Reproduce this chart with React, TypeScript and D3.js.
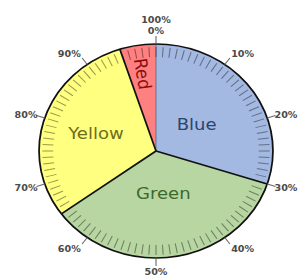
import React from "react";
import * as d3 from "d3";

const categories = ["Blue", "Green", "Yellow", "Red"];
const values = [30, 35, 30, 5];
const fills = ["#a3b9e2", "#b8d6a2", "#ffff80", "#ff8080"];
const textColors = ["#2a4470", "#3d6a2c", "#6e6e1a", "#8a1010"];
const labelRadiusFactor = [0.43, 0.4, 0.54, 0.73];
const tickValues = [0, 10, 20, 30, 40, 50, 60, 70, 80, 90];
const tickLabels = ["0%", "10%", "20%", "30%", "40%", "50%", "60%", "70%", "80%", "90%"];
const topExtraLabel = "100%";

const W = 298;
const H = 277;
const CX = 156;
const CY = 151;
const R = 107;
const SX = 1.093;

export default function App() {
  const pie = d3
    .pie<number>()
    .sort(null)
    .startAngle(0)
    .endAngle(2 * Math.PI)
    .value((d) => d);
  const arcs = pie(values);
  const arcGen = d3.arc<d3.PieArcDatum<number>>().innerRadius(0).outerRadius(R);
  const angle = d3.scaleLinear().domain([0, 100]).range([0, 2 * Math.PI]);
  const minor = d3.range(0, 100, 1);
  const font = "DejaVu Sans, Verdana, sans-serif";

  const pt = (a: number, r: number) => [Math.sin(a) * r, -Math.cos(a) * r];

  return (
    <svg
      width={W}
      height={H}
      style={{ position: "absolute", left: 0, top: 0, background: "#fff" }}
    >
      <g transform={`translate(${CX},${CY}) scale(${SX},1)`}>
        {arcs.map((a, i) => (
          <path key={"s" + i} d={arcGen(a) || ""} fill={fills[i]} stroke="none" />
        ))}
        {minor.map((v) => {
          const a = angle(v);
          const [x1, y1] = pt(a, R - 13);
          const [x2, y2] = pt(a, R - 3);
          return (
            <line
              key={"m" + v}
              x1={x1}
              y1={y1}
              x2={x2}
              y2={y2}
              stroke="rgba(0,0,0,0.4)"
              strokeWidth={1}
            />
          );
        })}
        {arcs.map((a, i) => {
          if (a.startAngle === 0) {
            const [x, y] = pt(0, R);
            return (
              <line key={"b" + i} x1={0} y1={0} x2={x} y2={y} stroke="rgba(60,60,80,0.5)" strokeWidth={1} />
            );
          }
          const [x, y] = pt(a.startAngle, R);
          return <line key={"b" + i} x1={0} y1={0} x2={x} y2={y} stroke="#111" strokeWidth={1.6} />;
        })}
        <circle r={R} fill="none" stroke="#111" strokeWidth={1.6} />
        {tickValues.map((v) => {
          const a = angle(v);
          const [x1, y1] = pt(a, R);
          const [x2, y2] = pt(a, R + 8);
          return <line key={"t" + v} x1={x1} y1={y1} x2={x2} y2={y2} stroke="#666" strokeWidth={1} />;
        })}
        {tickValues.map((v, i) => {
          const a = angle(v);
          const s = Math.sin(a);
          const c = Math.cos(a);
          const side = Math.abs(s) > 0.8;
          const [x, y] = pt(a, R + (side ? 7 : 10));
          const anchor = s > 0.2 ? "start" : s < -0.2 ? "end" : "middle";
          const dy = 3.4 - c * 3.6;
          return (
            <g key={"l" + v}>
              <text
                x={x}
                y={y + dy}
                textAnchor={anchor}
                fontFamily={font}
                fontSize={8.8}
                fontWeight={600}
                fill="#4a4a4a"
              >
                {tickLabels[i]}
              </text>
              {v === 0 && (
                <text
                  x={x}
                  y={y + dy - 11}
                  textAnchor="middle"
                  fontFamily={font}
                  fontSize={8.8}
                  fontWeight={600}
                  fill="#4a4a4a"
                >
                  {topExtraLabel}
                </text>
              )}
            </g>
          );
        })}
        {arcs.map((a, i) => {
          const mid = (a.startAngle + a.endAngle) / 2;
          const [x, y] = pt(mid, R * labelRadiusFactor[i]);
          const rotated = a.endAngle - a.startAngle < 0.5;
          const rot = rotated ? (mid * 180) / Math.PI - 270 : 0;
          return (
            <text
              key={"c" + i}
              x={x}
              y={y}
              textAnchor="middle"
              dominantBaseline="central"
              fontFamily={font}
              fontSize={16.5}
              fill={textColors[i]}
              transform={rot ? `rotate(${rot},${x},${y})` : undefined}
            >
              {categories[i]}
            </text>
          );
        })}
      </g>
    </svg>
  );
}
